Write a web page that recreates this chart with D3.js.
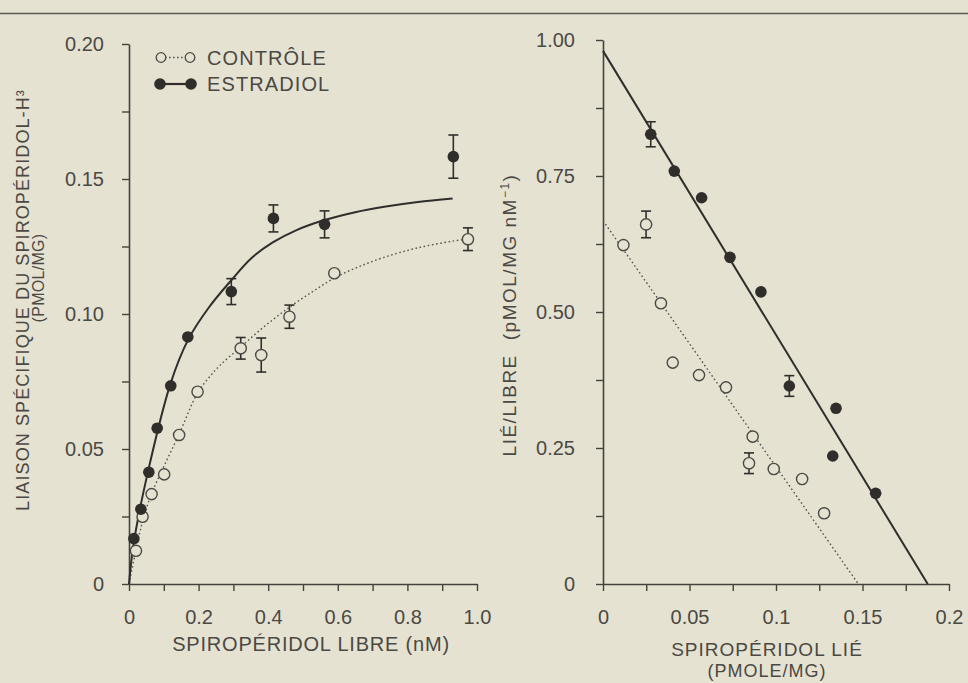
<!DOCTYPE html>
<html><head><meta charset="utf-8">
<script src="https://cdn.jsdelivr.net/npm/d3@7/dist/d3.min.js"></script>
<style>
html,body{margin:0;padding:0;background:#e6e2d2;}
svg{display:block;}
text{font-family:"Liberation Sans",Arial,Helvetica,sans-serif;fill:#4a4944;}
</style></head>
<body>
<svg id="chart" width="968" height="683"></svg>
<script>
// ---------- LEFT PANEL: saturation ----------
const ctlFree  = [0.020, 0.039, 0.065, 0.101, 0.144, 0.197, 0.321, 0.380, 0.461, 0.590, 0.974];
const ctlBound = [0.0123,0.0249,0.0333,0.0406,0.0552,0.0712,0.0873,0.0848,0.0990,0.1151,0.1277];
const ctlErr   = [0,     0,     0,     0,     0,     0,     0.0040,0.0063,0.0043,0,     0.0042];

const estFree  = [0.014, 0.034, 0.057, 0.081, 0.120, 0.169, 0.294, 0.415, 0.562, 0.932];
const estBound = [0.0168,0.0277,0.0414,0.0577,0.0734,0.0915,0.1083,0.1354,0.1332,0.1583];
const estErr   = [0,     0,     0,     0,     0,     0,     0.0048,0.0050,0.0050,0.0080];

const ctlCurveX = [0, 0.020, 0.040, 0.065, 0.100, 0.144, 0.197, 0.230, 0.260, 0.321, 0.390, 0.461, 0.530, 0.590, 0.660, 0.738, 0.830, 0.930, 0.974];
const ctlCurveY = [0, 0.0125,0.0237,0.0335,0.0435,0.0555,0.0708,0.0765,0.0808,0.0878,0.0955,0.1025,0.1085,0.1133,0.1175,0.1212,0.1245,0.1270,0.1277];
const estCurveX = [0, 0.014, 0.057, 0.120, 0.170, 0.230, 0.294, 0.350, 0.413, 0.480, 0.562, 0.650, 0.738, 0.830, 0.930];
const estCurveY = [0, 0.0155,0.0430,0.0745,0.0905,0.1025,0.1125,0.1205,0.1265,0.1310,0.1348,0.1377,0.1398,0.1415,0.1428];

const leftXTicks  = [0,0.1,0.2,0.3,0.4,0.5,0.6,0.7,0.8,0.9,1.0];
const leftXLabels = ["0","","0.2","","0.4","","0.6","","0.8","","1.0"];
const leftYTicks  = [0,0.025,0.05,0.075,0.10,0.125,0.15,0.175,0.20];
const leftYLabels = ["0","","0.05","","0.10","","0.15","","0.20"];

// ---------- RIGHT PANEL: Scatchard ----------
const ctlBoundR = [0.0118,0.0249,0.0335,0.0403,0.0555,0.0711,0.0865,0.0844,0.0987,0.1151,0.1278];
const ctlRatio  = [0.623, 0.661, 0.516, 0.407, 0.384, 0.3615,0.271, 0.222, 0.2114,0.193, 0.130];
const ctlRatioE = [0,     0.0245,0,     0,     0,     0,     0,     0.019, 0,     0,     0];

const estBoundR = [0.0276,0.0412,0.0570,0.0734,0.0913,0.1077,0.1347,0.1328,0.1576];
const estRatio  = [0.8267,0.759, 0.710, 0.6005,0.537, 0.364, 0.323, 0.2353,0.1667];
const estRatioE = [0.023, 0,     0,     0,     0,     0.019, 0,     0,     0];

const ctlLineX = [0, 0.1476], ctlLineY = [0.668, 0];
const estLineX = [0, 0.1877], estLineY = [0.980, 0];

const rightXTicks  = [0,0.025,0.05,0.075,0.1,0.125,0.15,0.175,0.2];
const rightXLabels = ["0","","0.05","","0.1","","0.15","","0.2"];
const rightYTicks  = [0,0.125,0.25,0.375,0.5,0.625,0.75,0.875,1.0];
const rightYLabels = ["0","","0.25","","0.50","","0.75","","1.00"];

const seriesNames = ["CONTRÔLE","ESTRADIOL"];

// ---------- drawing ----------
const svg = d3.select("#chart");
const INK = "#2f2e2b", AXIS = "#43423d";

svg.append("line").attr("x1",0).attr("x2",968).attr("y1",13.5).attr("y2",13.5)
   .attr("stroke","#5a5953").attr("stroke-width",1.6);

function styleAxis(g){
  g.select(".domain").attr("stroke",AXIS).attr("stroke-width",1.6);
  g.selectAll(".tick line").attr("stroke",AXIS).attr("stroke-width",1.4);
  g.selectAll(".tick text").attr("font-size",20).style("font-family",'"Liberation Sans",Arial,sans-serif').attr("fill","#4a4944");
}

function panel(cfg){
  const x = d3.scaleLinear().domain(cfg.xDom).range(cfg.xRange);
  const y = d3.scaleLinear().domain(cfg.yDom).range(cfg.yRange);
  const g = svg.append("g");
  const xa = g.append("g").attr("transform",`translate(0,${cfg.yRange[0]})`)
    .call(d3.axisBottom(x).tickValues(cfg.xTicks).tickSize(7).tickSizeOuter(0).tickPadding(19)
      .tickFormat((d,i)=>cfg.xLabels[i]));
  styleAxis(xa);
  const ya = g.append("g").attr("transform",`translate(${cfg.xRange[0]},0)`)
    .call(d3.axisLeft(y).tickValues(cfg.yTicks).tickSize(7).tickSizeOuter(0).tickPadding(cfg.yPad)
      .tickFormat((d,i)=>cfg.yLabels[i]));
  styleAxis(ya);
  return {x,y,g};
}

function drawErr(g,x,y,xs,ys,es){
  xs.forEach((xv,i)=>{
    if(!es[i]) return;
    const cx = x(xv), y1 = y(ys[i]-es[i]), y2 = y(ys[i]+es[i]);
    g.append("line").attr("x1",cx).attr("x2",cx).attr("y1",y1).attr("y2",y2).attr("stroke",INK).attr("stroke-width",1.6);
    [y1,y2].forEach(yy=>g.append("line").attr("x1",cx-5).attr("x2",cx+5).attr("y1",yy).attr("y2",yy).attr("stroke",INK).attr("stroke-width",1.6));
  });
}
function drawOpen(g,x,y,xs,ys){
  g.selectAll(null).data(xs).enter().append("circle")
    .attr("cx",d=>x(d)).attr("cy",(d,i)=>y(ys[i])).attr("r",5.6)
    .attr("fill","#e6e2d2").attr("stroke","#4a4944").attr("stroke-width",1.4);
}
function drawFilled(g,x,y,xs,ys){
  g.selectAll(null).data(xs).enter().append("circle")
    .attr("cx",d=>x(d)).attr("cy",(d,i)=>y(ys[i])).attr("r",5.8)
    .attr("fill",INK);
}

// Left
const L = panel({xDom:[0,1],xRange:[129,477],yDom:[0,0.2],yRange:[584,44],
  xTicks:leftXTicks,xLabels:leftXLabels,yTicks:leftYTicks,yLabels:leftYLabels,yPad:18});
const lineGen = (x,y,xs,ys,curve)=>d3.line().x(d=>x(d)).y((d,i)=>y(ys[i])).curve(curve)(xs);
L.g.append("path").attr("d",lineGen(L.x,L.y,ctlCurveX,ctlCurveY,d3.curveCatmullRom.alpha(0.5)))
  .attr("fill","none").attr("stroke","#55544e").attr("stroke-width",1.4).attr("stroke-dasharray","1.6,2.6");
L.g.append("path").attr("d",lineGen(L.x,L.y,estCurveX,estCurveY,d3.curveCatmullRom.alpha(0.5)))
  .attr("fill","none").attr("stroke",INK).attr("stroke-width",2);
drawErr(L.g,L.x,L.y,ctlFree,ctlBound,ctlErr);
drawErr(L.g,L.x,L.y,estFree,estBound,estErr);
drawOpen(L.g,L.x,L.y,ctlFree,ctlBound);
drawFilled(L.g,L.x,L.y,estFree,estBound);

// Legend
const leg = svg.append("g");
leg.append("line").attr("x1",161).attr("x2",190).attr("y1",57.5).attr("y2",57.5)
  .attr("stroke","#55544e").attr("stroke-width",1.4).attr("stroke-dasharray","1.6,2.4");
[161,190].forEach(cx=>leg.append("circle").attr("cx",cx).attr("cy",57.5).attr("r",4.8)
  .attr("fill","#e6e2d2").attr("stroke","#4a4944").attr("stroke-width",1.3));
leg.append("line").attr("x1",160).attr("x2",191).attr("y1",84).attr("y2",84)
  .attr("stroke",INK).attr("stroke-width",2.2);
[160,191].forEach(cx=>leg.append("circle").attr("cx",cx).attr("cy",84).attr("r",5.8).attr("fill",INK));
leg.selectAll(null).data(seriesNames).enter().append("text")
  .attr("x",207).attr("y",(d,i)=>64.5+i*26.5).attr("font-size",20).attr("letter-spacing",1.1).text(d=>d);

// Left axis titles
svg.append("text").attr("transform","translate(29,300) rotate(-90)").attr("text-anchor","middle")
  .attr("font-size",18).attr("letter-spacing",1.1).text("LIAISON SPÉCIFIQUE DU SPIROPÉRIDOL-H³");
svg.append("text").attr("transform","translate(44,278) rotate(-90)").attr("text-anchor","middle")
  .attr("font-size",16).attr("letter-spacing",0.3).text("(PMOL/MG)");
svg.append("text").attr("x",311).attr("y",651).attr("text-anchor","middle")
  .attr("font-size",20).attr("letter-spacing",0.8).text("SPIROPÉRIDOL LIBRE (nM)");

// Right
const R = panel({xDom:[0,0.2],xRange:[603,949],yDom:[0,1],yRange:[584,40],
  xTicks:rightXTicks,xLabels:rightXLabels,yTicks:rightYTicks,yLabels:rightYLabels,yPad:21});
R.g.append("path").attr("d",lineGen(R.x,R.y,ctlLineX,ctlLineY,d3.curveLinear))
  .attr("fill","none").attr("stroke","#55544e").attr("stroke-width",1.4).attr("stroke-dasharray","1.6,2.6");
R.g.append("path").attr("d",lineGen(R.x,R.y,estLineX,estLineY,d3.curveLinear))
  .attr("fill","none").attr("stroke",INK).attr("stroke-width",2);
drawErr(R.g,R.x,R.y,ctlBoundR,ctlRatio,ctlRatioE);
drawErr(R.g,R.x,R.y,estBoundR,estRatio,estRatioE);
drawOpen(R.g,R.x,R.y,ctlBoundR,ctlRatio);
drawFilled(R.g,R.x,R.y,estBoundR,estRatio);

const rt = svg.append("text").attr("transform","translate(516,315) rotate(-90)").attr("text-anchor","middle")
  .attr("font-size",19).attr("letter-spacing",1.5);
rt.append("tspan").text("LIÉ/LIBRE");
rt.append("tspan").attr("dx",14).text("(pMOL/MG nM");
rt.append("tspan").attr("dy",-7).attr("font-size",12).text("−1");
rt.append("tspan").attr("dy",7).text(")");
svg.append("text").attr("x",767).attr("y",656).attr("text-anchor","middle")
  .attr("font-size",19).attr("letter-spacing",1).text("SPIROPÉRIDOL LIÉ");
svg.append("text").attr("x",767).attr("y",677).attr("text-anchor","middle")
  .attr("font-size",18).attr("letter-spacing",1).text("(PMOLE/MG)");
</script>
</body></html>
